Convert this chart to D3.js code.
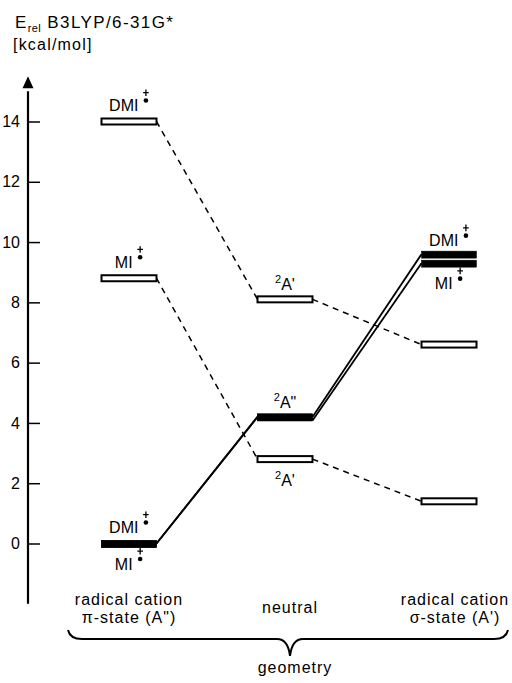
<!DOCTYPE html>
<html>
<head>
<meta charset="utf-8">
<script src="https://cdn.jsdelivr.net/npm/d3@7"></script>
<style>
  body { margin: 0; background: #fff; }
  svg { display: block; font-family: "Liberation Sans", Arial, Helvetica, sans-serif; }
</style>
</head>
<body>
<div id="chart"></div>
<script>
// geometries along x
const geometries = ['pi', 'neutral', 'sigma'];
const geometryLabels = [['radical cation', 'π-state (A")'], ['neutral'], ['radical cation', "σ-state (A')"]];

// relative energies [kcal/mol] at each geometry
const dmiApState = [14.0, 8.1, 6.6];   // 2A' state, open bars
const miApState = [8.8, 2.8, 1.4];
const dmiAppState = [0.0, 4.2, 9.6];   // 2A" state, filled bars
const miAppState = [0.0, 4.2, 9.3];

const yTicks = [0, 2, 4, 6, 8, 10, 12, 14];

// radical cation labels: name, geometry, energy
const ionLabels = [
  ['DMI', 'pi', 14.0],
  ['MI', 'pi', 8.8],
  ['DMI', 'pi', 0.0],
  ['MI', 'pi', 0.0],
  ['DMI', 'sigma', 9.6],
  ['MI', 'sigma', 9.3]
];
// state labels of the neutral geometry
const stateLabels = [["A'", 8.1], ['A"', 4.2], ["A'", 2.8]];

const width = 512, height = 683;
const barW = 55, barH = 6;

const svg = d3.select('#chart').append('svg')
  .attr('width', width)
  .attr('height', height);

const x = d3.scaleOrdinal().domain(geometries).range([129, 285, 449]);
const y = d3.scaleLinear().domain([0, 14]).range([543.5, 121.5]);

// title
const title = svg.append('text')
  .attr('x', 15).attr('y', 28)
  .attr('font-size', 17)
  .attr('letter-spacing', 1.4);
title.append('tspan').text('E');
title.append('tspan').attr('font-size', 11).attr('dy', 4).attr('letter-spacing', 0.4).text('rel');
title.append('tspan').attr('dy', -4).text(' B3LYP/6-31G*');

svg.append('text')
  .attr('x', 13).attr('y', 50)
  .attr('font-size', 16)
  .attr('letter-spacing', 1.2)
  .text('[kcal/mol]');

// y axis: line with arrow, ticks to the right, labels left
const axisX = 28;
svg.append('line')
  .attr('x1', axisX).attr('x2', axisX)
  .attr('y1', y(-2)).attr('y2', y(15))
  .attr('stroke', '#000')
  .attr('stroke-width', 2.2);

svg.append('path')
  .attr('d', `M${axisX - 5.5},${y(15.1)} L${axisX},${y(15.5)} L${axisX + 5.5},${y(15.1)} Z`)
  .attr('fill', '#000');

svg.append('g')
  .attr('transform', `translate(${axisX},0)`)
  .call(d3.axisRight(y).tickValues(yTicks).tickSize(12).tickFormat(''))
  .call(g => g.select('.domain').remove())
  .call(g => g.selectAll('.tick line').attr('stroke-width', 1.5));

svg.append('g')
  .attr('transform', `translate(${axisX},0)`)
  .call(d3.axisLeft(y).tickValues(yTicks).tickSize(0).tickPadding(8))
  .call(g => g.select('.domain').remove())
  .call(g => g.selectAll('.tick text')
    .attr('font-size', 16)
    .attr('font-family', '"Liberation Sans", Arial, sans-serif')
    .attr('fill', '#000'));

// series
const series = [
  {values: dmiApState, open: true},
  {values: miApState, open: true},
  {values: dmiAppState, open: false, shift: 0},
  {values: miAppState, open: false, shift: 3.5}
];

// connectors between geometries
series.forEach(s => {
  const segs = d3.pairs(geometries.map((g, i) => ({g: g, v: s.values[i]})));
  svg.selectAll(null)
    .data(segs)
    .enter()
    .append('line')
    .attr('x1', d => x(d[0].g) + barW / 2)
    // the two 2A" lines leave the neutral level side by side
    .attr('y1', (d, i) => y(d[0].v) + (i === 1 && s.shift ? s.shift : 0))
    .attr('x2', d => x(d[1].g) - barW / 2)
    .attr('y2', d => y(d[1].v))
    .attr('stroke', '#000')
    .attr('stroke-width', s.open ? 1.5 : 1.8)
    .attr('stroke-dasharray', s.open ? '6,5' : null);
});

// energy levels
series.forEach(s => {
  svg.selectAll(null)
    .data(geometries.map((g, i) => ({g: g, v: s.values[i]})))
    .enter()
    .append('rect')
    .attr('x', d => x(d.g) - barW / 2)
    .attr('y', d => y(d.v) - barH / 2)
    .attr('width', barW)
    .attr('height', s.open ? barH : barH + 1)
    .attr('fill', s.open ? '#fff' : '#000')
    .attr('stroke', '#000')
    .attr('stroke-width', s.open ? 2 : 0.5);
});

// radical cation labels with the + over • mark
function ionLabel(name, cx, baseY) {
  const g = svg.append('g');
  const t = g.append('text')
    .attr('x', 0).attr('y', baseY)
    .attr('font-size', 16)
    .text(name);
  const w = t.node().getComputedTextLength();
  const mx = w + 7.5, my = baseY - 18.3;
  g.append('path')
    .attr('d', `M${mx - 2.8},${my} H${mx + 2.8} M${mx},${my - 3.3} V${my + 3.3}`)
    .attr('stroke', '#000')
    .attr('stroke-width', 1.3);
  g.append('circle')
    .attr('cx', mx).attr('cy', baseY - 10.5)
    .attr('r', 2.3)
    .attr('fill', '#000');
  g.attr('transform', `translate(${cx - (mx + 3) / 2},0)`);
}

// MI goes below where it shares (nearly) the same level with DMI
ionLabels.forEach(d => {
  const below = d[0] === 'MI' && ionLabels.some(o => o[0] === 'DMI' && o[1] === d[1] && o[2] >= d[2] && o[2] - d[2] < 1);
  const above = ionLabels.some(o => o[0] === 'MI' && o[1] === d[1] && d[2] - o[2] > 0 && d[2] - o[2] < 1);
  ionLabel(d[0], x(d[1]), below ? y(d[2]) + 26 : y(d[2]) - (above ? 8 : 10.5));
});

// neutral state labels
stateLabels.forEach((d, i) => {
  const below = i === stateLabels.length - 1;
  const t = svg.append('text')
    .attr('x', x('neutral'))
    .attr('y', below ? y(d[1]) + 27 : y(d[1]) - 9)
    .attr('text-anchor', 'middle')
    .attr('font-size', 16);
  t.append('tspan').attr('font-size', 11).attr('dy', -7).text('2');
  t.append('tspan').attr('dy', 7).text(d[0]);
});

// geometry labels
const labelShift = [0, 5, 6];
geometryLabels.forEach((lines, i) => {
  const t = svg.append('text')
    .attr('text-anchor', 'middle')
    .attr('font-size', 16)
    .attr('letter-spacing', 1);
  lines.forEach((l, j) => {
    t.append('tspan')
      .attr('x', x(geometries[i]) + labelShift[i])
      .attr('y', lines.length === 1 ? 613 : 605 + j * 18)
      .text(l);
  });
});

// brace under the geometries
const bl = x('pi') - 61, br = x('sigma') + 59, tip = x('neutral') + 5;
const bTop = 630, bMid = 639, bTip = 656;
svg.append('path')
  .attr('d', `M${bl},${bTop} Q${bl + 2},${bMid} ${bl + 14},${bMid} L${tip - 13},${bMid}` +
    ` Q${tip - 2},${bMid} ${tip},${bTip} Q${tip + 2},${bMid} ${tip + 13},${bMid}` +
    ` L${br - 14},${bMid} Q${br - 2},${bMid} ${br},${bTop}`)
  .attr('fill', 'none')
  .attr('stroke', '#000')
  .attr('stroke-width', 2);

svg.append('text')
  .attr('x', tip + 5).attr('y', 673)
  .attr('text-anchor', 'middle')
  .attr('font-size', 16)
  .attr('letter-spacing', 1)
  .text('geometry');
</script>
</body>
</html>
